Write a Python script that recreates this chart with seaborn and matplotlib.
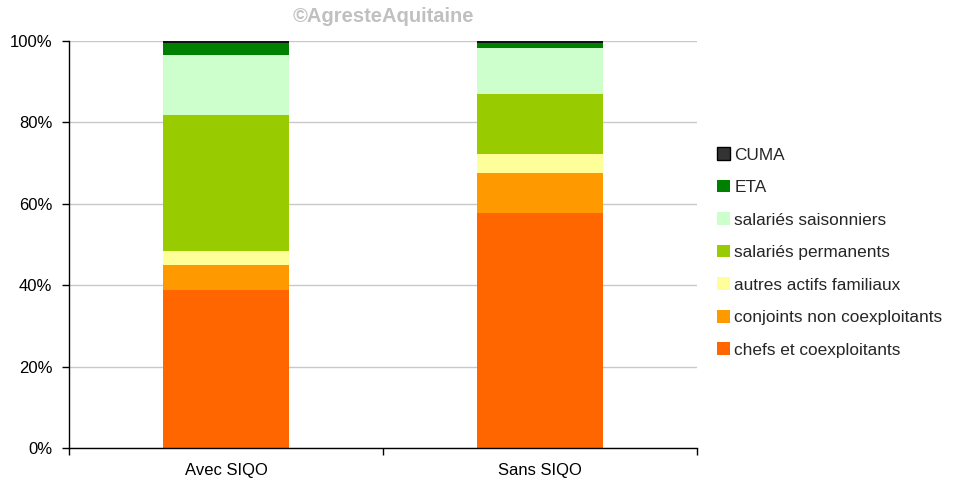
import matplotlib
matplotlib.use("Agg")
import matplotlib.pyplot as plt
from matplotlib.patches import Patch
from matplotlib.ticker import FixedLocator, FuncFormatter
import pandas as pd
import seaborn as sns

# Répartition du travail agricole (% des UTA) selon la présence d'un SIQO
groupes = ["Avec SIQO", "Sans SIQO"]
categories = [
    "chefs et coexploitants",
    "conjoints non coexploitants",
    "autres actifs familiaux",
    "salariés permanents",
    "salariés saisonniers",
    "ETA",
    "CUMA",
]
avec_siqo = [38.9, 6.1, 3.4, 33.4, 14.7, 3.1, 0.4]
sans_siqo = [57.8, 9.8, 4.7, 14.8, 11.3, 1.2, 0.4]
couleurs = ["#FF6600", "#FF9900", "#FFFF99", "#99CC00", "#CCFFCC", "#008000", "#111111"]

sns.set_theme(style="white")
plt.rcParams["font.family"] = ["Liberation Sans", "DejaVu Sans"]

df = pd.DataFrame({"groupe": groupes})
for i, cat in enumerate(categories):
    df[cat] = [avec_siqo[i], sans_siqo[i]]
cumul = df[categories].cumsum(axis=1)

fig = plt.figure(figsize=(9.6, 4.82), dpi=100)
ax = fig.add_axes([69 / 960, 1 - 448 / 482, 628 / 960, 407 / 482])

ax.yaxis.grid(True, color="#c8c8c8", linewidth=1)
ax.set_axisbelow(True)

# Empilement : on trace les cumuls du haut vers le bas
for i in reversed(range(len(categories))):
    cat = categories[i]
    plot_df = pd.DataFrame({"groupe": groupes, "valeur": cumul[cat].values / 100})
    sns.barplot(
        data=plot_df, x="groupe", y="valeur", color=couleurs[i], saturation=1,
        width=0.4, ax=ax, edgecolor="none", linewidth=0,
    )

ax.set_xlim(-0.5, 1.5)
ax.set_ylim(0, 1)
ax.set_xlabel("")
ax.set_ylabel("")

ax.yaxis.set_major_locator(FixedLocator([0, 0.2, 0.4, 0.6, 0.8, 1.0]))
ax.yaxis.set_major_formatter(FuncFormatter(lambda v, p: f"{v * 100:.0f}%"))
ax.tick_params(axis="y", which="major", left=True, length=5, width=1, color="black",
               labelsize=12, pad=7, labelcolor="black")

ax.xaxis.set_major_locator(FixedLocator([-0.5, 0.5, 1.5]))
ax.xaxis.set_major_formatter(FuncFormatter(lambda v, p: ""))
ax.set_xticks([0, 1], minor=True)
ax.set_xticklabels(groupes, minor=True)
ax.tick_params(axis="x", which="major", bottom=True, length=5, width=1, color="black")
ax.tick_params(axis="x", which="minor", bottom=False, length=0, pad=10.5,
               labelsize=12, labelcolor="black")

for side in ["top", "right"]:
    ax.spines[side].set_visible(False)
for side in ["left", "bottom"]:
    ax.spines[side].set_color("black")
    ax.spines[side].set_linewidth(1)

handles = [
    Patch(facecolor="#333333" if categories[i] == "CUMA" else couleurs[i],
          edgecolor="black" if categories[i] == "CUMA" else couleurs[i],
          linewidth=1.0 if categories[i] == "CUMA" else 0)
    for i in reversed(range(len(categories)))
]
labels = list(reversed(categories))
fig.legend(
    handles, labels, loc="center left", bbox_to_anchor=(717 / 960, 1 - 252.5 / 482),
    frameon=False, fontsize=12.4, handlelength=0.75, handleheight=0.75,
    handletextpad=0.25, labelspacing=1.0, borderpad=0, borderaxespad=0,
)

fig.text(383 / 960, 1 - 16 / 482, "©AgresteAquitaine", ha="center", va="center",
         fontsize=14.5, fontweight="bold", color="#c0c0c0")

fig.savefig("out.png", dpi=100)
